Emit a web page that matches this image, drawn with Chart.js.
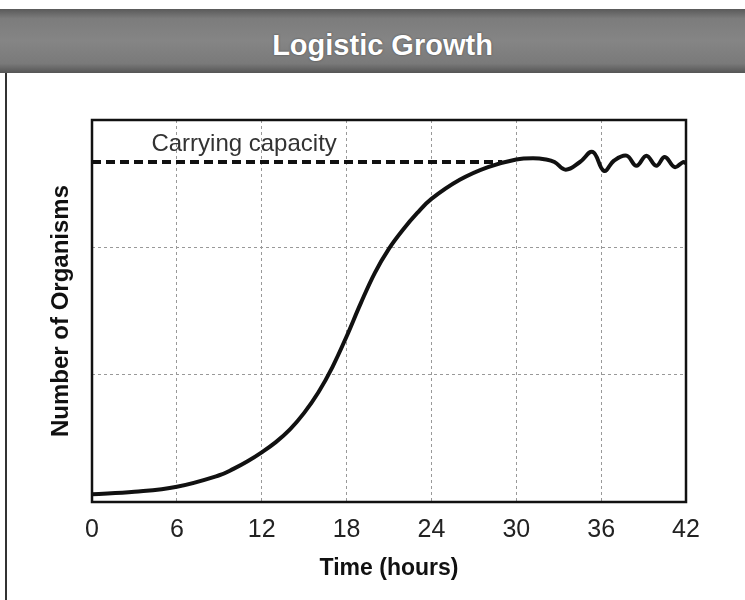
<!DOCTYPE html>
<html>
<head>
<meta charset="utf-8">
<title>Logistic Growth</title>
<script src="https://cdn.jsdelivr.net/npm/chart.js@4.4.1/dist/chart.umd.min.js"></script>
<style>
    html, body {
        margin: 0;
        padding: 0;
        background: #fff;
        width: 745px;
        height: 600px;
        overflow: hidden;
        font-family: "Liberation Sans", Arial, Helvetica, sans-serif;
    }
    #header {
        position: absolute;
        left: 0;
        top: 9px;
        width: 745px;
        height: 64px;
        box-sizing: border-box;
        padding-left: 20px;
        background: linear-gradient(to bottom, #5a5a5a 0%, #7c7c7c 15%, #858585 50%, #7a7a7a 85%, #555 100%);
        color: #fff;
        font-weight: bold;
        font-size: 29px;
        line-height: 72px;
        text-align: center;
        z-index: 2;
        text-shadow: 0 0 2px #444;
    }
    #frameLine {
        position: absolute;
        left: 5px;
        top: 73px;
        width: 2px;
        height: 527px;
        background: #333;
    }
    #chartBox {
        position: absolute;
        left: 0;
        top: 0;
        width: 745px;
        height: 600px;
    }
</style>
</head>
<body>
<div id="header">Logistic Growth</div>
<div id="frameLine"></div>
<div id="chartBox"><canvas id="growthChart" width="745" height="600"></canvas></div>
<script>
// Time axis (hours) and tick labels
const hourTicks = [0, 6, 12, 18, 24, 30, 36, 42];

// Population curve (y scale 0-300, gridlines every 100)
const hours = [0, 3, 6, 9, 10, 11, 12, 13, 14, 15, 16, 17, 18, 19, 20, 21, 22, 23, 24, 26, 28, 30,
    31.2, 32.1, 32.7, 33.5, 34.5, 35.4, 36.2, 36.9, 37.8, 38.5, 39.2, 39.9, 40.5, 41.2, 41.8, 42];
const organisms = [6, 8, 12, 21, 26, 32, 39, 47, 57, 70, 86, 106, 130, 156, 180, 199, 214, 227, 238, 253, 263, 269,
    270, 269, 267, 261, 267, 275, 260, 268, 272, 264, 272, 264, 271, 263, 267, 266];

// Carrying capacity dashed line
const capacityHours = [0, 29];
const capacityLevel = 267;
const capacityLabel = 'Carrying capacity';

const FONT = '"Liberation Sans", Arial, Helvetica, sans-serif';

// Frame around the plot area + carrying capacity label
const framePlugin = {
    id: 'frame',
    afterDatasetsDraw(chart) {
        const {ctx, chartArea, scales} = chart;
        ctx.save();
        ctx.fillStyle = '#333';
        ctx.font = '24px ' + FONT;
        ctx.textBaseline = 'bottom';
        ctx.fillText(capacityLabel, scales.x.getPixelForValue(4.2), scales.y.getPixelForValue(capacityLevel) - 6);
        ctx.strokeStyle = '#111';
        ctx.lineWidth = 2.5;
        ctx.strokeRect(chartArea.left, chartArea.top, chartArea.right - chartArea.left, chartArea.bottom - chartArea.top);
        ctx.restore();
    }
};

const ctx = document.getElementById('growthChart');
new Chart(ctx, {
    type: 'line',
    data: {
        datasets: [
            {
                label: 'Number of Organisms',
                data: hours.map((h, i) => ({x: h, y: organisms[i]})),
                borderColor: '#111',
                borderWidth: 4,
                pointRadius: 0,
                tension: 0.4,
                fill: false
            },
            {
                label: capacityLabel,
                data: capacityHours.map(h => ({x: h, y: capacityLevel})),
                borderColor: '#111',
                borderWidth: 4,
                borderDash: [9, 5],
                pointRadius: 0,
                fill: false
            }
        ]
    },
    options: {
        responsive: false,
        animation: false,
        layout: {
            padding: {left: 0, right: 59, top: 120, bottom: 0}
        },
        plugins: {
            legend: {display: false},
            tooltip: {enabled: false}
        },
        scales: {
            x: {
                type: 'linear',
                min: 0,
                max: 42,
                afterBuildTicks: scale => {
                    scale.ticks = hourTicks.map(v => ({value: v}));
                },
                afterFit: scale => {
                    scale.height = 98;
                },
                ticks: {
                    color: '#222',
                    padding: 13,
                    font: {family: FONT, size: 25}
                },
                grid: {
                    color: '#999',
                    lineWidth: 1,
                    drawTicks: false
                },
                border: {display: false, dash: [3, 3]},
                title: {
                    display: true,
                    text: 'Time (hours)',
                    color: '#111',
                    padding: {top: 0, bottom: 18},
                    font: {family: FONT, size: 23, weight: 'bold'}
                }
            },
            y: {
                min: 0,
                max: 300,
                afterFit: scale => {
                    scale.width = 92;
                },
                ticks: {
                    display: false,
                    stepSize: 100
                },
                grid: {
                    color: '#999',
                    lineWidth: 1,
                    drawTicks: false
                },
                border: {display: false, dash: [3, 3]},
                title: {
                    display: true,
                    text: 'Number of Organisms',
                    color: '#111',
                    padding: {top: 47, bottom: 0},
                    font: {family: FONT, size: 24, weight: 'bold'}
                }
            }
        }
    },
    plugins: [framePlugin]
});
</script>
</body>
</html>
